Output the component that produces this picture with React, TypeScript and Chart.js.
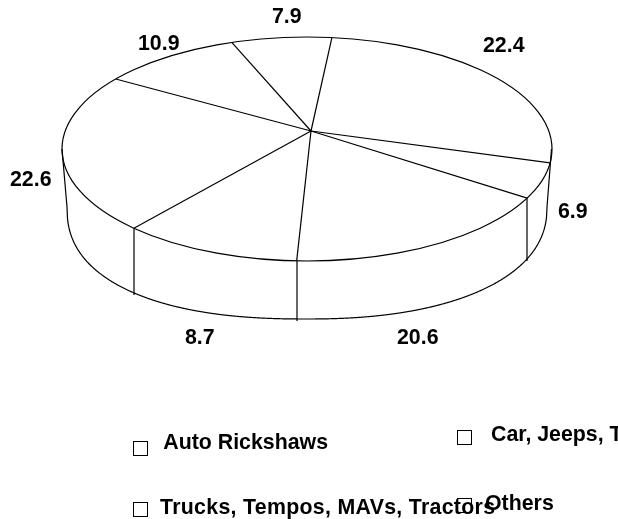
import React, { useEffect, useRef } from "react";
import { Chart, registerables } from "chart.js";

Chart.register(...registerables);

// Numbers printed beside the slices, clockwise from the top.
const printedValues = ["22.4", "6.9", "20.6", "8.7", "22.6", "10.9", "7.9"];
// Slice shares as they were actually drawn in the picture, clockwise from the top.
const drawnShares = [27.93, 5.03, 16.23, 10.14, 22.52, 10.44, 7.71];
const firstSliceAngle = 5.84;

const legendNames = ["Auto Rickshaws", "Car, Jeeps, Taxis", "Trucks, Tempos, MAVs, Tractors", "Others"];

const FONT = 'bold 21.33px "Liberation Sans", Arial, sans-serif';
const labelSpots = [
  [483, 51.5],
  [558, 218],
  [397, 344],
  [185, 344],
  [10, 186],
  [138, 49.5],
  [272, 22.5],
];
const legendSpots = [
  { box: [133.5, 441.5], text: [163.3, 448.5], spacing: "0px" },
  { box: [457.5, 430.5], text: [491, 440.7], spacing: "0px" },
  { box: [133.5, 502.5], text: [160, 513.5], spacing: "0.3px" },
  { box: [457.5, 498.5], text: [485, 509.5], spacing: "0px" },
];

const CX = 307, CY = 149, RX = 245, RY = 112;
const BOTTOM_CY = 207, BOTTOM_RX = 240;
const TIP = [311, 131];

function rimPoint(t: number): [number, number] {
  const px = (TIP[0] - CX) / RX, py = (TIP[1] - CY) / RY;
  const qx = Math.cos(t), qy = Math.sin(t);
  const pp = px * px + py * py;
  const pq = px * qx + py * qy;
  const g = Math.sqrt(1 - pp);
  const parX = (pq / pp) * px, parY = (pq / pp) * py;
  const d = 1 + pq;
  const u = (px + parX + (qx - parX) * g) / d;
  const v = (py + parY + (qy - parY) * g) / d;
  return [CX + u * RX, CY + v * RY];
}

function bottomY(x: number): number {
  const n = x < CX ? 2.35 : 2.25;
  const u = Math.min(1, Math.abs(x - CX) / BOTTOM_RX);
  return BOTTOM_CY + RY * Math.pow(1 - Math.pow(u, n), 1 / n);
}

const pie3d = {
  id: "pie3d",
  beforeDatasetsDraw(chart: any) {
    const ctx = chart.ctx as CanvasRenderingContext2D;
    const arcs = chart.getDatasetMeta(0).data;
    ctx.save();
    ctx.strokeStyle = "#000";
    ctx.lineWidth = 1.2;

    // side wall
    ctx.beginPath();
    ctx.moveTo(CX - RX, CY);
    for (let x = CX - BOTTOM_RX; x <= CX + BOTTOM_RX; x += 0.5) ctx.lineTo(x, bottomY(x));
    ctx.lineTo(CX + RX - 0.5, CY);
    ctx.stroke();

    // top face
    ctx.beginPath();
    ctx.ellipse(CX, CY, RX, RY, 0, 0, Math.PI * 2);
    ctx.stroke();

    // slice edges
    arcs.forEach((arc: any) => {
      const [x, y] = rimPoint(arc.startAngle);
      ctx.beginPath();
      ctx.moveTo(TIP[0], TIP[1]);
      ctx.lineTo(x, y);
      ctx.stroke();
      if (y > CY && Math.abs(x - CX) < 0.95 * RX) {
        const vx = Math.round(x);
        ctx.beginPath();
        ctx.moveTo(vx, y);
        ctx.lineTo(vx, bottomY(vx) + 2);
        ctx.stroke();
      }
    });
    ctx.restore();
    return false;
  },
  afterDraw(chart: any) {
    const ctx = chart.ctx as CanvasRenderingContext2D;
    ctx.save();
    ctx.font = FONT;
    ctx.fillStyle = "#000";
    ctx.textAlign = "left";
    ctx.textBaseline = "alphabetic";
    printedValues.forEach((s, i) => ctx.fillText(s, labelSpots[i][0], labelSpots[i][1]));
    legendNames.forEach((s, i) => {
      const { box, text, spacing } = legendSpots[i];
      ctx.strokeStyle = "#000";
      ctx.lineWidth = 1;
      ctx.strokeRect(box[0], box[1], 14, 14);
      (ctx as any).letterSpacing = spacing;
      ctx.fillText(s, text[0], text[1]);
    });
    ctx.restore();
  },
};

export default function App() {
  const ref = useRef<HTMLCanvasElement>(null);
  useEffect(() => {
    const chart = new Chart(ref.current!, {
      type: "pie",
      data: {
        labels: printedValues,
        datasets: [{ data: drawnShares, backgroundColor: "#fff", borderColor: "#000", borderWidth: 1 }],
      },
      options: {
        animation: false,
        responsive: false,
        rotation: firstSliceAngle,
        plugins: { legend: { display: false }, tooltip: { enabled: false } },
      },
      plugins: [pie3d],
    } as any);
    return () => chart.destroy();
  }, []);
  return (
    <canvas
      ref={ref}
      width={618}
      height={519}
      style={{ position: "absolute", left: 0, top: 0, display: "block", background: "#fff" }}
    />
  );
}
